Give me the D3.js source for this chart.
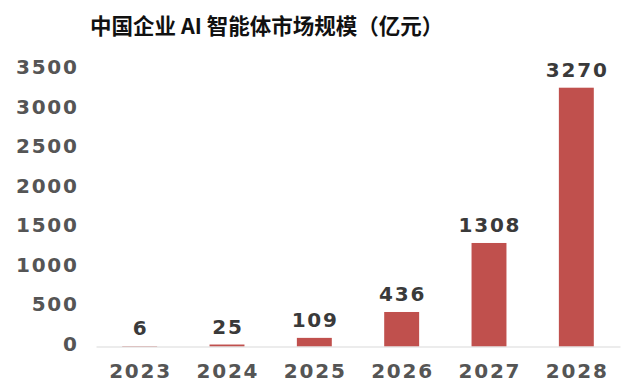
<!DOCTYPE html>
<html>
<head>
<meta charset="utf-8">
<script src="https://cdn.jsdelivr.net/npm/d3@7"></script>
<style>
  body { margin: 0; background: #fff; }
</style>
</head>
<body>
<svg></svg>
<script>
/* globals d3 */

const width = 635;
const height = 385;

const years = ["2023", "2024", "2025", "2026", "2027", "2028"];
const values = [6, 25, 109, 436, 1308, 3270];
const yTicks = [0, 500, 1000, 1500, 2000, 2500, 3000, 3500];
const title = "中国企业 AI 智能体市场规模（亿元）";

const numFont = "'DejaVu Sans', sans-serif";
const spacing = 1.8;

const svg = d3.select("svg")
    .attr("width", width)
    .attr("height", height)
    .attr("viewBox", [0, 0, width, height]);

const x = d3.scaleBand(years, [96, 620]).paddingInner(0.6).paddingOuter(0.3);
const y = d3.scaleLinear([0, 3500], [346.5, 69.5]);

// title
svg.append("text")
    .attr("x", 90)
    .attr("y", 34)
    .attr("font-family", "'Noto Sans CJK SC', sans-serif")
    .attr("font-weight", "bold")
    .attr("font-size", 21.5)
    .attr("fill", "#111")
    .text(title);

// y axis (labels only)
svg.append("g")
    .attr("transform", `translate(${77 + spacing},0)`)
    .call(d3.axisLeft(y).tickValues(yTicks).tickFormat(d3.format("d")).tickSize(0).tickPadding(0))
    .call(g => g.select(".domain").remove())
    .call(g => g.selectAll("text")
        .attr("font-family", numFont)
        .attr("font-weight", "bold")
        .attr("font-size", 20)
        .attr("letter-spacing", spacing)
        .attr("fill", "#555")
        .attr("dy", "0.2em"));

// bars
svg.append("g")
    .attr("fill", "#C0504D")
  .selectAll("rect")
  .data(values)
  .join("rect")
    .attr("x", (d, i) => x(years[i]))
    .attr("y", d => y(d))
    .attr("width", x.bandwidth())
    .attr("height", d => y(0) - y(d));

// x axis
svg.append("g")
    .attr("transform", `translate(0,${y(0)})`)
    .call(d3.axisBottom(x).tickSize(0).tickPadding(17))
    .call(g => g.select(".domain").attr("stroke", "#d9d9d9").attr("stroke-width", 1.2))
    .call(g => g.selectAll("text")
        .attr("font-family", numFont)
        .attr("font-weight", "bold")
        .attr("font-size", 20)
        .attr("letter-spacing", spacing)
        .attr("dx", spacing / 2)
        .attr("fill", "#555"));

// value labels
svg.append("g")
    .attr("font-family", numFont)
    .attr("font-weight", "bold")
    .attr("font-size", 20)
    .attr("letter-spacing", spacing)
    .attr("fill", "#3a3a3a")
    .attr("text-anchor", "middle")
  .selectAll("text")
  .data(values)
  .join("text")
    .attr("x", (d, i) => x(years[i]) + x.bandwidth() / 2 + spacing / 2)
    .attr("y", d => y(d) - 11)
    .text(d => d);
</script>
</body>
</html>
